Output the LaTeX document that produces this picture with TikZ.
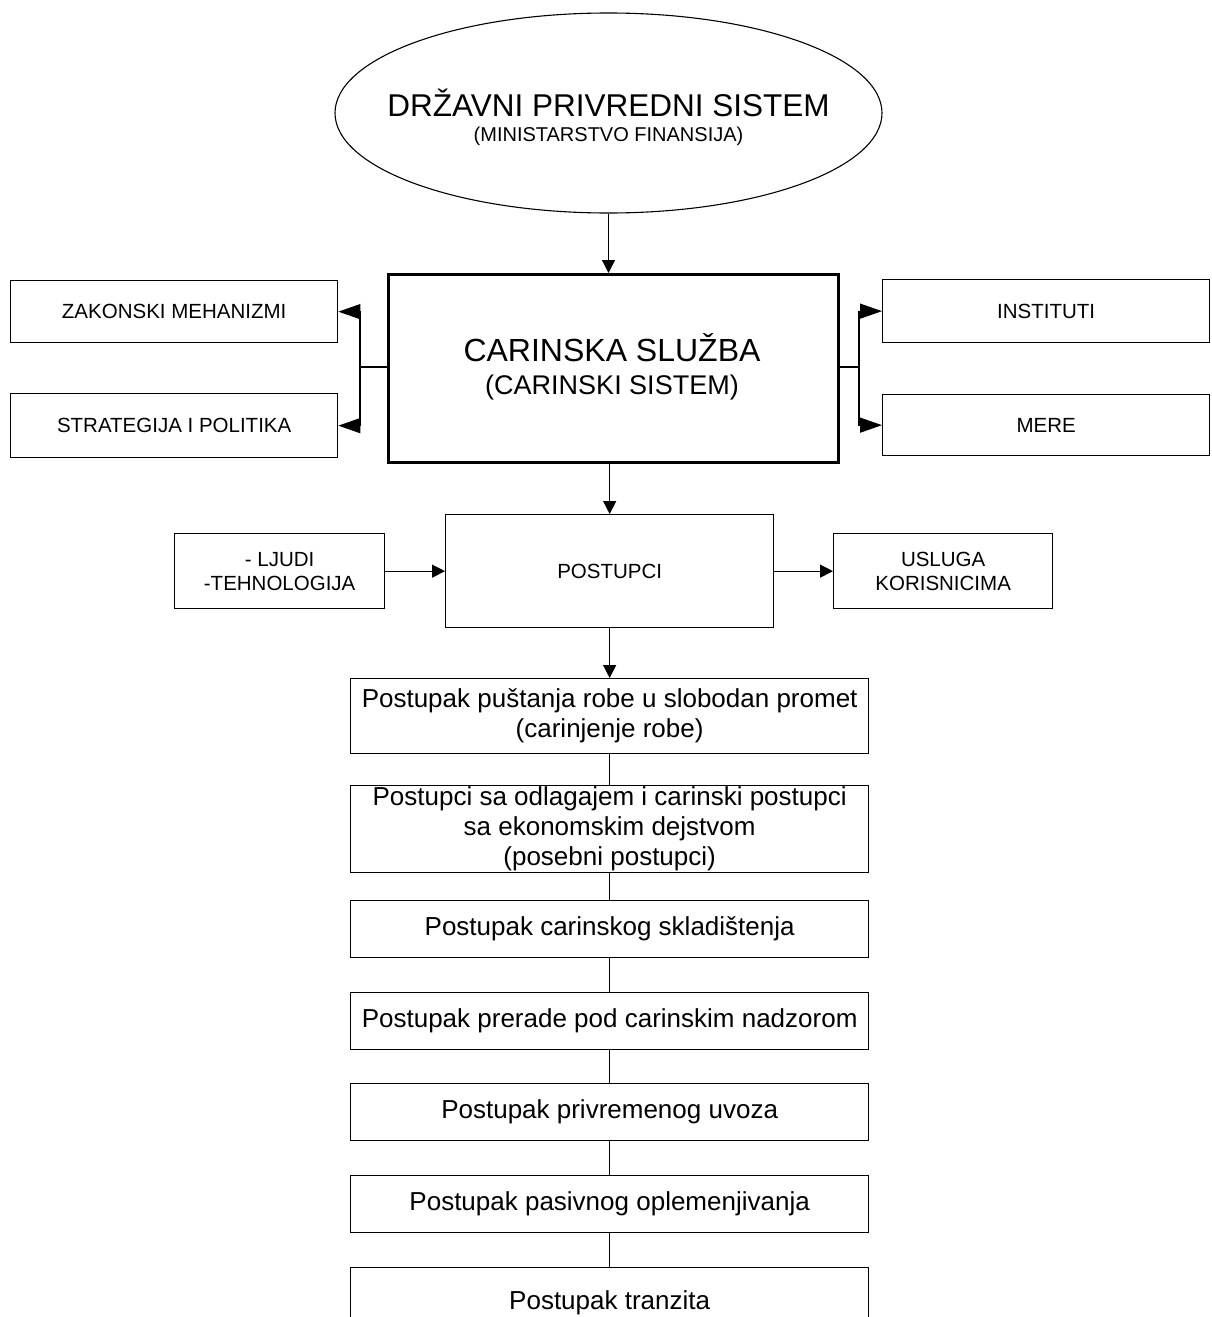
\documentclass[tikz,border=0pt]{standalone}
\usepackage{fontspec}
\setmainfont{Liberation Sans}
\usetikzlibrary{shapes.geometric,arrows.meta}

\begin{document}
\begin{tikzpicture}[x=1pt,y=-1pt,
  box/.style={draw, line width=1.3pt, inner sep=0pt, align=center, anchor=north west},
  label/.style={inner sep=0pt, align=center},
  smalltext/.style={font=\fontsize{20.5}{24}\selectfont},
  listtext/.style={font=\fontsize{26}{30}\selectfont},
  busarrow/.style={line width=1.3pt, -{Triangle[length=22pt,width=15pt]}},
  flowarrow/.style={line width=1.3pt, -{Triangle[length=13pt,width=13pt]}},
  link/.style={line width=1.3pt}]

\clip (0,0) rectangle (1211,1317);
\fill[white] (0,0) rectangle (1211,1317);

% top level system
\node[draw, ellipse, line width=1.1pt, minimum width=547pt, minimum height=200pt,
      inner sep=0pt] (drz) at (608.5,113) {};
\node[label, font=\fontsize{31.5}{36}\selectfont] (drzt) at (608.5,103) {DRŽAVNI PRIVREDNI SISTEM};
\node[label, font=\fontsize{20}{24}\selectfont] (drzs) at (608.5,136) {(MINISTARSTVO FINANSIJA)};

% customs service
\node[box, line width=2.6pt, minimum width=450pt, minimum height=188pt] (cs) at (387,273) {};
\node[label, font=\fontsize{32}{38}\selectfont] (cst) at (612,348) {CARINSKA SLUŽBA};
\node[label, font=\fontsize{27}{32}\selectfont] (css) at (612,388) {(CARINSKI SISTEM)};

% side boxes
\node[box, smalltext, minimum width=327pt, minimum height=62pt] (zak) at (10,280) {ZAKONSKI MEHANIZMI};
\node[box, smalltext, minimum width=327pt, minimum height=64pt] (str) at (10,393) {STRATEGIJA I POLITIKA};
\node[box, smalltext, minimum width=327pt, minimum height=63pt] (inst) at (882,279) {INSTITUTI};
\node[box, smalltext, minimum width=327pt, minimum height=61pt] (mere) at (882,394) {MERE};

\coordinate (bl) at (360,367);
\coordinate (br) at (859,367);
\draw[link] (cs.west |- bl) -- (bl);
\draw[busarrow] (bl) |- (zak.east);
\draw[busarrow] (bl) |- (str.east);
\draw[link] (cs.east |- br) -- (br);
\draw[busarrow] (br) |- (inst.west);
\draw[busarrow] (br) |- (mere.west);

\draw[flowarrow] (drz.south) -- (drz.south |- cs.north);

% procedures
\node[box, smalltext, minimum width=328pt, minimum height=113pt] (post) at (445,514) {POSTUPCI};
\node[box, smalltext, minimum width=210pt, minimum height=75pt] (ljudi) at (174,533) {- LJUDI\\-TEHNOLOGIJA};
\node[box, smalltext, minimum width=219pt, minimum height=75pt] (usl) at (833,533) {USLUGA\\KORISNICIMA};

\draw[flowarrow] (post.north |- cs.south) -- (post.north);
\draw[flowarrow] (ljudi.east) -- (post.west);
\draw[flowarrow] (post.east) -- (usl.west);

% list of customs procedures
\node[box, listtext, minimum width=518pt, minimum height=75pt] (p1) at (350,678)
  {Postupak puštanja robe u slobodan promet\\(carinjenje robe)};
\node[box, listtext, minimum width=518pt, minimum height=87pt] (p2) at (350,785)
  {Postupci sa odlagajem i carinski postupci\\sa ekonomskim dejstvom\\(posebni postupci)};
\node[box, listtext, minimum width=518pt, minimum height=57pt] (p3) at (350,900) {Postupak carinskog skladištenja};
\node[box, listtext, minimum width=518pt, minimum height=57pt] (p4) at (350,992) {Postupak prerade pod carinskim nadzorom};
\node[box, listtext, minimum width=518pt, minimum height=57pt] (p5) at (350,1083) {Postupak privremenog uvoza};
\node[box, listtext, minimum width=518pt, minimum height=57pt] (p6) at (350,1175) {Postupak pasivnog oplemenjivanja};
\node[box, listtext, minimum width=518pt, minimum height=80pt, text depth=16pt] (p7) at (350,1267) {Postupak tranzita};

\draw[flowarrow] (post.south) -- (p1.north);
\draw[link] (p1.south) -- (p2.north);
\draw[link] (p2.south) -- (p3.north);
\draw[link] (p3.south) -- (p4.north);
\draw[link] (p4.south) -- (p5.north);
\draw[link] (p5.south) -- (p6.north);
\draw[link] (p6.south) -- (p7.north);
\end{tikzpicture}
\end{document}
